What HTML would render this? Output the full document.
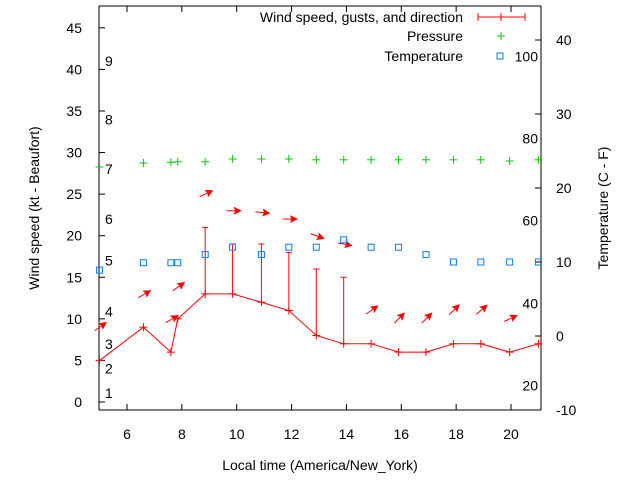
<!DOCTYPE html>
<html><head><meta charset="utf-8"><style>
body{margin:0;background:#fff}
svg{display:block;font-family:"Liberation Sans",sans-serif}
</style></head><body>
<svg id="c" width="640" height="480">
<rect x="0" y="0" width="640" height="480" fill="#fff"/>
</svg>
<script>
const hours=[5.0,6.6,7.6,7.85,8.85,9.85,10.9,11.9,12.9,13.9,14.9,15.9,16.9,17.9,18.9,19.95,21.0];
const windSpeed=[5,9,6,10,13,13,12,11,8,7,7,6,6,7,7,6,7];
const gusts=[null,null,null,null,21,19,19,18,16,15,null,null,null,null,null,null,null];
const arrowLevel=[9,12.9,9.9,13.8,25,23,22.8,22,20,19,11,10,10,11,11,10];
const arrowDir=[-35,-30,-30,-35,-25,0,5,0,20,10,-35,-45,-45,-45,-40,-25];
const temperatureC=[8.9,9.9,9.9,9.9,11,12,11,12,12,13,12,12,11,10,10,10,10];
const pressure=[1012,1013,1013.2,1013.3,1013.3,1014,1014,1014,1013.8,1013.8,1013.8,1013.8,1013.8,1013.8,1013.8,1013.5,1013.8];
const xTicks=[6,8,10,12,14,16,18,20];
const yTicks=[0,5,10,15,20,25,30,35,40,45];
const y2Ticks=[-10,0,10,20,30,40];
const beaufortLabels=["1","2","3","4","5","6","7","8","9"];
const beaufortSpeeds=[1.1,4,7,10.9,17,22,28,34,41];
const fLabels=["20","40","60","80","100"];
const fValues=[-6.7,4.4,15.6,26.7,37.8];

const L=99,R=541,T=6,B=410;
const X=h=>127+(h-6)*27.43;
const Y=v=>402-v*8.315;
const Y2=c=>336-c*7.4;
const YP=p=>167-(p-1012)*4;
const svg=document.getElementById('c');
const NS='http://www.w3.org/2000/svg';
function mk(t,a,p){const e=document.createElementNS(NS,t);for(const k in a)e.setAttribute(k,a[k]);(p||svg).appendChild(e);return e;}
function txt(x,y,s,anchor,size){const e=mk('text',{x:x,y:y,'font-size':size||14,'text-anchor':anchor||'start',fill:'#000'});e.textContent=s;return e;}

// frame
const fr=mk('rect',{x:L,y:T,width:R-L,height:B-T,fill:'none',stroke:'#000','stroke-width':1});



xTicks.forEach(h=>{const x=X(h);
 mk('line',{x1:x,y1:B,x2:x,y2:B-6,stroke:'#000'});mk('line',{x1:x,y1:T,x2:x,y2:T+6,stroke:'#000'});
 const t=txt(x,439,String(h),'middle');
 
 });
yTicks.forEach(v=>{const y=Y(v);
 mk('line',{x1:L,y1:y,x2:L+6,y2:y,stroke:'#000'});
 const t=txt(82,y+5,String(v),'end');
 
 });
y2Ticks.forEach(v=>{const y=Y2(v);
 mk('line',{x1:R,y1:y,x2:R-6,y2:y,stroke:'#000'});
 const t=txt(556,y+5,String(v),'start');
 
 });
beaufortLabels.forEach((s,i)=>{const t=txt(105,Y(beaufortSpeeds[i])+5,s,'start');
 
 });
fLabels.forEach((s,i)=>{const t=txt(538,Y2(fValues[i])+5,s,'end');
 
 });

// axis titles
let t=txt(320,470,'Local time (America/New_York)','middle');


t=txt(0,0,'Wind speed (kt - Beaufort)','middle');t.setAttribute('transform','translate(39,208) rotate(-90)');


t=txt(0,0,'Temperature (C - F)','middle');t.setAttribute('transform','translate(608,208) rotate(-90)');



const red='#f00',green='#0c0',blue='#0a7aff';
// wind line
const pl=mk('polyline',{points:hours.map((h,i)=>X(h)+','+Y(windSpeed[i])).join(' '),fill:'none',stroke:red,'stroke-width':1});


hours.forEach((h,i)=>{const x=X(h),y=Y(windSpeed[i]);
 const g=mk('g',{});
 
 
 mk('line',{x1:x-4,y1:y,x2:x+4,y2:y,stroke:red},g);mk('line',{x1:x,y1:y-4,x2:x,y2:y+4,stroke:red},g);
 if(gusts[i]!=null){const gy=Y(gusts[i]);
  mk('line',{x1:x,y1:y,x2:x,y2:gy,stroke:red},g);mk('line',{x1:x-3,y1:gy,x2:x+3,y2:gy,stroke:red},g);}
});
// arrows
arrowLevel.forEach((v,i)=>{const x=X(hours[i]),y=Y(v);
 const g=mk('g',{transform:`translate(${x},${y}) rotate(${arrowDir[i]})`});
 
 
 mk('line',{x1:-6,y1:0,x2:6,y2:0,stroke:red},g);
 mk('polygon',{points:'8,0 2,-3 3,0 2,3',fill:red,stroke:red},g);
});
// temperature
temperatureC.forEach((c,i)=>{const r=mk('rect',{x:X(hours[i])-3,y:Y2(c)-3,width:6,height:6,fill:'none',stroke:blue});
 
 });
// pressure
pressure.forEach((p,i)=>{const x=X(hours[i]),y=YP(p);const g=mk('g',{});
 
 
 mk('line',{x1:x-4,y1:y,x2:x+4,y2:y,stroke:green},g);mk('line',{x1:x,y1:y-4,x2:x,y2:y+4,stroke:green},g);});

// legend
const lg=mk('g',{});


[['Wind speed, gusts, and direction',22],['Pressure',41],['Temperature',61]].forEach(([s,y])=>{
 const e=mk('text',{x:463,y:y,'font-size':14,'text-anchor':'end'},lg);e.textContent=s;
 
 });
mk('line',{x1:478,y1:17,x2:525,y2:17,stroke:red},lg);
mk('line',{x1:478,y1:13,x2:478,y2:21,stroke:red},lg);mk('line',{x1:525,y1:13,x2:525,y2:21,stroke:red},lg);
mk('line',{x1:497,y1:17,x2:505,y2:17,stroke:red},lg);mk('line',{x1:501,y1:13,x2:501,y2:21,stroke:red},lg);
mk('line',{x1:497,y1:36,x2:505,y2:36,stroke:green},lg);mk('line',{x1:501,y1:32,x2:501,y2:40,stroke:green},lg);
mk('rect',{x:497,y:53,width:6,height:6,fill:'none',stroke:blue},lg);
</script>
</body></html>
